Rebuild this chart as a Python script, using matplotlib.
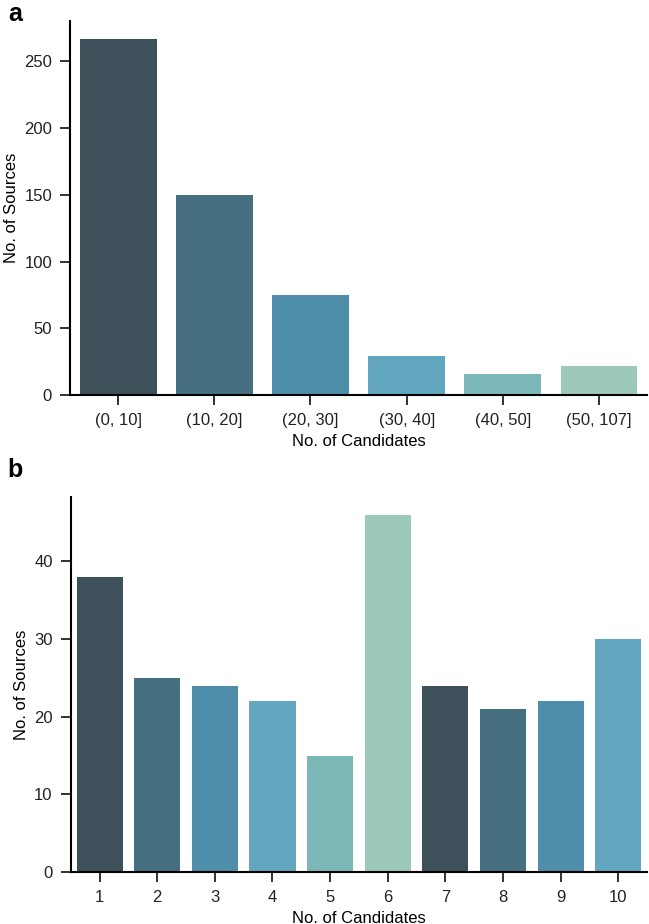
import matplotlib.pyplot as plt

plt.rcParams['font.family'] = ['Liberation Sans', 'DejaVu Sans']

# panel a: candidates binned
bins_a = ["(0, 10]", "(10, 20]", "(20, 30]", "(30, 40]", "(40, 50]", "(50, 107]"]
sources_a = [267, 150, 75, 29, 16, 22]

# panel b: exact number of candidates
cands_b = ["1", "2", "3", "4", "5", "6", "7", "8", "9", "10"]
sources_b = [38, 25, 24, 22, 15, 46, 24, 21, 22, 30]

palette = ["#3e505a", "#476f82", "#4f8eaa", "#62a7bf", "#7db8b9", "#9dc9bb"]

fig = plt.figure(figsize=(6.49, 9.24), dpi=100)
ax_a = fig.add_axes([0.108, 0.5725, 0.889, 0.405])
ax_b = fig.add_axes([0.109, 0.0563, 0.888, 0.4058])


def style_bars(ax, labels, values):
    colors = [palette[i % len(palette)] for i in range(len(values))]
    ax.bar(range(len(values)), values, width=0.8, color=colors)
    ax.set_xticks(range(len(values)))
    ax.set_xticklabels(labels)
    ax.set_xlim(-0.5, len(values) - 0.5)
    ax.set_ylim(0, max(values) * 1.05)
    ax.spines['top'].set_visible(False)
    ax.spines['right'].set_visible(False)
    ax.spines['left'].set_linewidth(1.5)
    ax.spines['bottom'].set_linewidth(1.5)
    ax.tick_params(axis='both', length=7, width=1.3, labelsize=12, colors='#222222')
    ax.tick_params(axis='x', pad=6)
    ax.tick_params(axis='y', pad=6)
    ax.set_xlabel("No. of Candidates", fontsize=12, labelpad=4)
    ax.set_ylabel("No. of Sources", fontsize=12, labelpad=4)


style_bars(ax_a, bins_a, sources_a)
ax_a.set_yticks([0, 50, 100, 150, 200, 250])
style_bars(ax_b, cands_b, sources_b)
ax_b.set_yticks([0, 10, 20, 30, 40])

fig.text(0.012, 0.998, "a", fontsize=18, fontweight='bold', va='top')
fig.text(0.012, 0.504, "b", fontsize=18, fontweight='bold', va='top')

fig.savefig("out.png", dpi=100)
